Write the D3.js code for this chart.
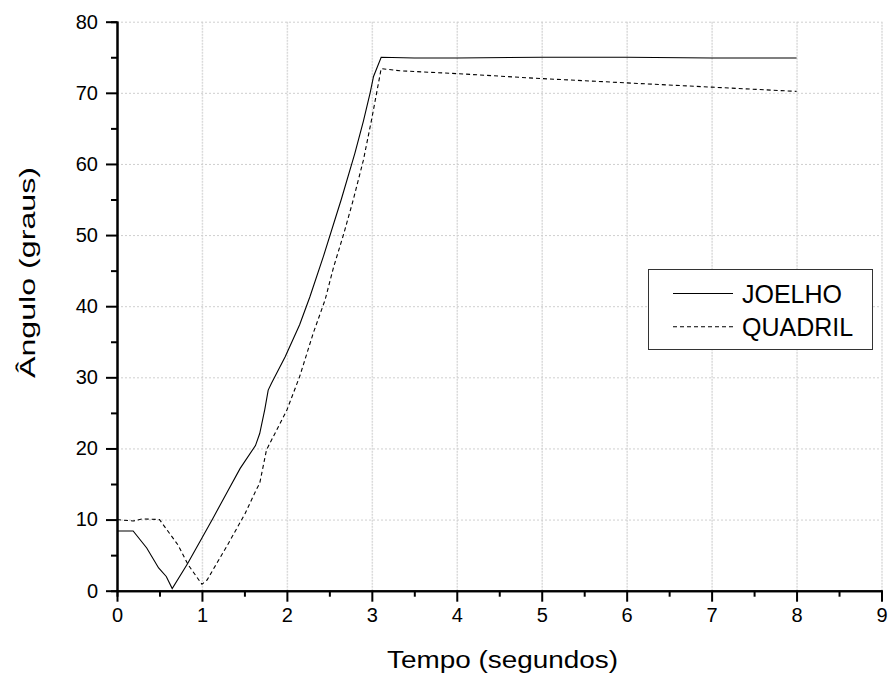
<!DOCTYPE html>
<meta charset="utf-8">
<style>
  body { margin: 0; background: #fff; }
  svg { font-family: "Liberation Sans", Arial, sans-serif; }
  .grid line { stroke: #cfcfcf; stroke-width: 1; stroke-dasharray: 2,2; }
  .grid .domain { display: none; }
  .axis .domain { stroke: #000; stroke-width: 2; }
  .axis line { stroke: #000; stroke-width: 2; }
  .axis text { font-size: 20px; fill: #000; font-family: "Liberation Sans", Arial, sans-serif; }
  .legend text { font-size: 25px; }
</style>

<svg width="890" height="681"></svg>
<script src="https://d3js.org/d3.v7.min.js"></script>
<script>
// data
var joelhoT = [0, 0.19, 0.35, 0.49, 0.58, 0.65, 0.83, 1.0, 1.13, 1.29, 1.45, 1.63, 1.68, 1.74, 1.78, 1.82, 1.98, 2.15, 2.27, 2.43, 2.59, 2.64, 2.8, 2.9, 2.98, 3.02, 3.11, 3.5, 4, 5, 6, 7, 8];
var joelhoY = [8.4, 8.4, 6.0, 3.2, 2.0, 0.3, 3.8, 7.4, 10.2, 13.7, 17.2, 20.4, 22.1, 25.5, 28.2, 29.2, 32.9, 37.4, 41.3, 47.0, 53.1, 55.0, 61.5, 66.0, 70.0, 72.3, 75.0, 74.9, 74.9, 75.0, 75.0, 74.9, 74.9];
var quadrilT = [0, 0.19, 0.3, 0.5, 0.72, 0.84, 1.0, 1.06, 1.29, 1.45, 1.51, 1.64, 1.68, 1.76, 2.0, 2.15, 2.31, 2.45, 2.55, 2.67, 2.78, 2.9, 3.0, 3.11, 3.33, 4, 5, 6, 7, 8];
var quadrilY = [10.0, 9.8, 10.1, 10.0, 6.4, 3.6, 0.9, 1.5, 6.2, 9.6, 10.9, 14.2, 15.1, 19.8, 25.4, 30.1, 36.2, 40.9, 45.5, 50.2, 54.9, 60.5, 66.4, 73.4, 73.1, 72.7, 72.0, 71.4, 70.8, 70.2];
var xTicks = [0, 1, 2, 3, 4, 5, 6, 7, 8, 9];
var yTicks = [0, 10, 20, 30, 40, 50, 60, 70, 80];
var xMinor = [0.5, 1.5, 2.5, 3.5, 4.5, 5.5, 6.5, 7.5, 8.5];
var yMinor = [5, 15, 25, 35, 45, 55, 65, 75];
var seriesNames = ["JOELHO", "QUADRIL"];

var svg = d3.select("svg");

var x = d3.scaleLinear().domain([0, 9]).range([117, 881.5]);
var y = d3.scaleLinear().domain([0, 80]).range([590.7, 21.7]);

// grid
svg.append("g")
    .attr("class", "grid")
    .attr("transform", "translate(0,590.7)")
    .call(d3.axisBottom(x).tickValues(xTicks.slice(1)).tickSize(-(590.7 - 21.7)).tickFormat(""))
    .selectAll("line").style("stroke", "#dadada").style("stroke-width", 1.5).style("stroke-dasharray", "2,1");
svg.append("g")
    .attr("class", "grid")
    .attr("transform", "translate(117,0)")
    .call(d3.axisLeft(y).tickValues(yTicks.slice(1)).tickSize(-(881.5 - 117)).tickFormat(""));

// lines
var line = d3.line()
    .x(function (d) { return x(d[0]); })
    .y(function (d) { return y(d[1]); });

svg.append("path")
    .datum(d3.zip(joelhoT, joelhoY))
    .attr("fill", "none")
    .attr("stroke", "#000")
    .attr("stroke-width", 1.1)
    .attr("d", line);

svg.append("path")
    .datum(d3.zip(quadrilT, quadrilY))
    .attr("fill", "none")
    .attr("stroke", "#000")
    .attr("stroke-width", 1.1)
    .attr("stroke-dasharray", "4,3")
    .attr("d", line);

// axes
svg.append("g")
    .attr("class", "axis")
    .attr("transform", "translate(0,590.7)")
    .call(d3.axisBottom(x).tickValues(xMinor).tickSize(6).tickFormat(""));
svg.append("g")
    .attr("class", "axis")
    .attr("transform", "translate(0,590.7)")
    .call(d3.axisBottom(x).tickValues(xTicks).tickSize(11).tickSizeOuter(0).tickPadding(6).tickFormat(d3.format("d")));

svg.append("g")
    .attr("class", "axis")
    .attr("transform", "translate(117,0)")
    .call(d3.axisLeft(y).tickValues(yMinor).tickSize(6).tickFormat(""));
svg.append("g")
    .attr("class", "axis")
    .attr("transform", "translate(117,0)")
    .call(d3.axisLeft(y).tickValues(yTicks).tickSize(11).tickSizeOuter(0).tickPadding(8).tickFormat(d3.format("d")));

// axis titles
svg.append("text")
    .attr("x", 502.5)
    .attr("y", 668)
    .attr("text-anchor", "middle")
    .attr("textLength", 231)
    .attr("lengthAdjust", "spacingAndGlyphs")
    .style("font-size", "23px")
    .text("Tempo (segundos)");

svg.append("text")
    .attr("transform", "translate(35,272.5) rotate(-90)")
    .attr("text-anchor", "middle")
    .attr("textLength", 211)
    .attr("lengthAdjust", "spacingAndGlyphs")
    .style("font-size", "22px")
    .text("Ângulo (graus)");

// legend
var lg = svg.append("g").attr("class", "legend");
lg.append("rect")
    .attr("x", 648.5).attr("y", 269.5)
    .attr("width", 224).attr("height", 80)
    .attr("fill", "#fff")
    .attr("stroke", "#333")
    .attr("stroke-width", 1);
seriesNames.forEach(function (name, i) {
    var yy = 293.5 + i * 33.3;
    lg.append("line")
        .attr("x1", 673).attr("x2", 733)
        .attr("y1", yy).attr("y2", yy)
        .attr("stroke", "#000")
        .attr("stroke-width", 1.1)
        .attr("stroke-dasharray", i === 1 ? "4,3" : null);
    lg.append("text")
        .attr("x", 742)
        .attr("y", yy + 9.5)
        .text(name);
});
</script>
